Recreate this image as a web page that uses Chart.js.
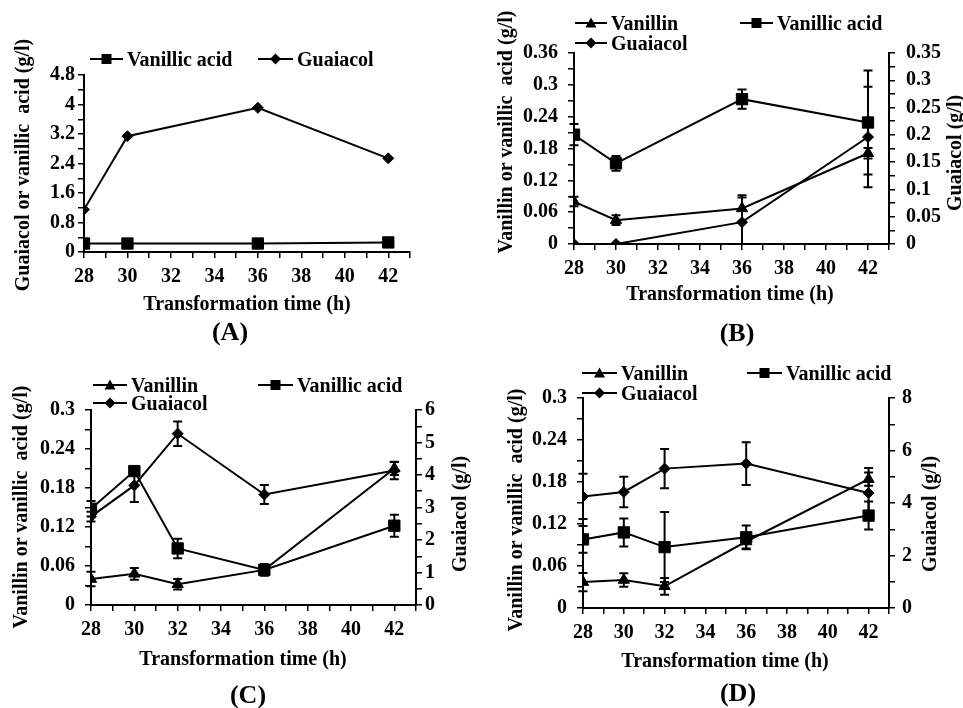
<!DOCTYPE html>
<html><head><meta charset="utf-8">
<script src="https://cdn.jsdelivr.net/npm/chart.js@4.4.0/dist/chart.umd.min.js"></script>
<style>
html,body{margin:0;padding:0;background:#fff;}
#root{position:relative;width:963px;height:708px;overflow:hidden;background:#fff;}
canvas{position:absolute;}
.t{position:absolute;font-family:'Liberation Serif','Times New Roman',serif;font-weight:bold;font-size:20px;color:#000;white-space:pre;line-height:1;transform:translate(-50%,-50%);}
.r{transform:translate(-50%,-50%) rotate(-90deg);}
.p{font-size:26px;}
.lg{position:absolute;height:24px;display:flex;align-items:center;font-family:'Liberation Serif','Times New Roman',serif;font-weight:bold;font-size:20px;color:#000;white-space:pre;}
.lg svg{margin-right:4px;}
</style></head>
<body><div id="root">
<canvas id="cA" width="470" height="300" style="left:0;top:40px"></canvas>
<canvas id="cB" width="483" height="300" style="left:480px;top:20px"></canvas>
<canvas id="cC" width="480" height="300" style="left:0;top:380px"></canvas>
<canvas id="cD" width="483" height="300" style="left:480px;top:370px"></canvas>

<div class="t r" style="left:22px;top:165px">Guaiacol or vanillic  acid (g/l)</div>
<div class="t" style="left:247px;top:303px">Transformation time (h)</div>
<div class="t p" style="left:230px;top:332px">(A)</div>

<div class="t r" style="left:505px;top:132px">Vanillin or vanillic  acid (g/l)</div>
<div class="t r" style="left:954px;top:153px">Guaiacol (g/l)</div>
<div class="t" style="left:730px;top:293px">Transformation time (h)</div>
<div class="t p" style="left:737px;top:333px">(B)</div>

<div class="t r" style="left:20px;top:507px">Vanillin or vanillic  acid (g/l)</div>
<div class="t r" style="left:459px;top:514px">Guaiacol (g/l)</div>
<div class="t" style="left:243px;top:658px">Transformation time (h)</div>
<div class="t p" style="left:248px;top:695px">(C)</div>

<div class="t r" style="left:515px;top:510px">Vanillin or vanillic  acid (g/l)</div>
<div class="t r" style="left:929px;top:514px">Guaiacol (g/l)</div>
<div class="t" style="left:725px;top:660px">Transformation time (h)</div>
<div class="t p" style="left:738px;top:693px">(D)</div>
</div>
<script>
// ---------- DATA ----------
const aTime = [28, 30, 36, 42];
const aVanillicAcid = [0.23, 0.23, 0.23, 0.26];
const aGuaiacol = [1.15, 3.14, 3.91, 2.54];

const bTime = [28, 30, 36, 42];
const bVanillin = [0.080, 0.045, 0.067, 0.171];
const bVanillinErr = [0.009, 0.009, 0.025, 0.010];
const bVanillicAcid = [0.206, 0.152, 0.273, 0.229];
const bVanillicAcidErr = [0.020, 0.014, 0.018, 0.098];
const bGuaiacol = [0, 0, 0.040, 0.196];
const bGuaiacolErr = [0, 0, 0.045, 0.092];

const cTime = [28, 30, 32, 36, 42];
const cVanillin = [0.040, 0.048, 0.032, 0.054, 0.210];
const cVanillinErr = [0.011, 0.009, 0.008, 0.006, 0.010];
const cVanillicAcid = [0.148, 0.206, 0.087, 0.054, 0.122];
const cVanillicAcidErr = [0.012, 0.006, 0.015, 0.009, 0.017];
const cGuaiacol = [2.72, 3.68, 5.27, 3.40, 4.14];
const cGuaiacolErr = [0.15, 0.51, 0.38, 0.29, 0.27];

const dTime = [28, 30, 32, 36, 42];
const dVanillin = [0.037, 0.040, 0.031, 0.095, 0.184];
const dVanillinErr = [0.013, 0.0095, 0.012, 0.010, 0.0095];
const dVanillicAcid = [0.098, 0.108, 0.087, 0.101, 0.132];
const dVanillicAcidErr = [0.019, 0.020, 0.050, 0.017, 0.020];
const dGuaiacol = [4.25, 4.42, 5.31, 5.50, 4.38];
const dGuaiacolErr = [0.86, 0.58, 0.75, 0.81, 0.95];

// tick labels (major) and minor tick positions
const xMajor = [28, 30, 32, 34, 36, 38, 40, 42];
const xMinor = [29, 31, 33, 35, 37, 39, 41, 43];
const aLeftMajor = [0, 0.8, 1.6, 2.4, 3.2, 4, 4.8];
const aLeftMinor = [0.4, 1.2, 2, 2.8, 3.6, 4.4];
const bLeftMajor = [0, 0.06, 0.12, 0.18, 0.24, 0.3, 0.36];
const bLeftMinor = [0.03, 0.09, 0.15, 0.21, 0.27, 0.33];
const bRightMajor = [0, 0.05, 0.1, 0.15, 0.2, 0.25, 0.3, 0.35];
const bRightMinor = [0.025, 0.075, 0.125, 0.175, 0.225, 0.275, 0.325];
const cdLeftMajor = [0, 0.06, 0.12, 0.18, 0.24, 0.3];
const cdLeftMinor = [0.03, 0.09, 0.15, 0.21, 0.27];
const cRightMajor = [0, 1, 2, 3, 4, 5, 6];
const cRightMinor = [0.5, 1.5, 2.5, 3.5, 4.5, 5.5];
const dRightMajor = [0, 2, 4, 6, 8];
const dRightMinor = [1, 3, 5, 7];

// ---------- HELPERS ----------
const FONT = { family: "'Liberation Serif','Times New Roman',serif", size: 20, weight: 'bold' };
const pts = (xs, ys) => xs.map((x, i) => ({ x, y: ys[i] }));

const errorBarPlugin = {
  id: 'errorBars',
  afterDatasetsDraw(chart) {
    const ctx = chart.ctx, area = chart.chartArea;
    ctx.save();
    ctx.beginPath();
    ctx.rect(area.left - 10, area.top - 10, area.right - area.left + 20, area.bottom - area.top + 10);
    ctx.clip();
    ctx.strokeStyle = '#000';
    ctx.lineWidth = 2;
    chart.data.datasets.forEach((ds) => {
      if (!ds.errorBars) return;
      const xs = chart.scales.x, ys = chart.scales[ds.yAxisID || 'y'];
      ds.data.forEach((p, j) => {
        const e = ds.errorBars[j];
        if (!e) return;
        const px = xs.getPixelForValue(p.x);
        const hi = ys.getPixelForValue(p.y + e);
        const lo = ys.getPixelForValue(p.y - e);
        ctx.beginPath();
        ctx.moveTo(px, hi); ctx.lineTo(px, lo);
        ctx.moveTo(px - 4.5, hi); ctx.lineTo(px + 4.5, hi);
        ctx.moveTo(px - 4.5, lo); ctx.lineTo(px + 4.5, lo);
        ctx.stroke();
      });
    });
    ctx.restore();
  }
};

function series(label, xs, ys, style, radius, err, axis) {
  return {
    label, data: pts(xs, ys), showLine: true, tension: 0,
    borderColor: '#000', backgroundColor: '#000', borderWidth: 2,
    pointStyle: style, pointRadius: radius, pointHoverRadius: radius,
    pointBackgroundColor: '#000', pointBorderColor: '#000', pointBorderWidth: 1,
    errorBars: err || null, yAxisID: axis || 'y'
  };
}

function axis(min, max, major, minor, position, width, pad) {
  const all = major.concat(minor).sort((a, b) => a - b);
  return {
    type: 'linear', position, min, max,
    afterBuildTicks: (s) => { s.ticks = all.map(v => ({ value: v })); },
    afterFit: (s) => { s.width = width; },
    ticks: {
      color: '#000', font: FONT, padding: pad, autoSkip: false,
      callback: (v) => major.includes(v) ? String(v) : ''
    },
    grid: { drawOnChartArea: false, drawTicks: true, tickLength: 6, color: '#000', lineWidth: 1.5 },
    border: { color: '#000', width: 2 }
  };
}

function xAxis(height) {
  const all = xMajor.concat(xMinor).sort((a, b) => a - b);
  return {
    type: 'linear', position: 'bottom', min: 28, max: 43,
    afterBuildTicks: (s) => { s.ticks = all.map(v => ({ value: v })); },
    afterFit: (s) => { s.height = height; },
    ticks: {
      color: '#000', font: FONT, padding: 7, autoSkip: false, maxRotation: 0,
      callback: (v) => xMajor.includes(v) ? String(v) : ''
    },
    grid: { drawOnChartArea: false, drawTicks: true, tickLength: 6, color: '#000', lineWidth: 1.5 },
    border: { color: '#000', width: 2 }
  };
}

function makeChart(id, datasets, scales, padding) {
  new Chart(document.getElementById(id), {
    type: 'scatter',
    data: { datasets },
    options: {
      responsive: false, animation: false, devicePixelRatio: 1,
      layout: { padding },
      plugins: { legend: { display: false }, tooltip: { enabled: false } },
      scales
    },
    plugins: [errorBarPlugin]
  });
}

// ---------- CHARTS ----------
makeChart('cA', [
  series('Vanillic acid', aTime, aVanillicAcid, 'rect', 8),
  series('Guaiacol', aTime, aGuaiacol, 'rectRot', 5.5)
], {
  x: xAxis(88),
  y: axis(0, 4.8, aLeftMajor, aLeftMinor, 'left', 84, 3)
}, { top: 35, right: 60, left: 0, bottom: 0 });

makeChart('cB', [
  series('Vanillin', bTime, bVanillin, 'triangle', 6.5, bVanillinErr),
  series('Vanillic acid', bTime, bVanillicAcid, 'rect', 8, bVanillicAcidErr),
  series('Guaiacol', bTime, bGuaiacol, 'rectRot', 5.5, bGuaiacolErr, 'y2')
], {
  x: xAxis(76),
  y: axis(0, 0.36, bLeftMajor, bLeftMinor, 'left', 94, 10),
  y2: axis(0, 0.35, bRightMajor, bRightMinor, 'right', 74, 11)
}, { top: 33, right: 0, left: 0, bottom: 0 });

makeChart('cC', [
  series('Vanillin', cTime, cVanillin, 'triangle', 6.5, cVanillinErr),
  series('Vanillic acid', cTime, cVanillicAcid, 'rect', 8, cVanillicAcidErr),
  series('Guaiacol', cTime, cGuaiacol, 'rectRot', 5.5, cGuaiacolErr, 'y2')
], {
  x: xAxis(75),
  y: axis(0, 0.3, cdLeftMajor, cdLeftMinor, 'left', 91, 10),
  y2: axis(0, 6, cRightMajor, cRightMinor, 'right', 64, 3)
}, { top: 30, right: 0, left: 0, bottom: 0 });

makeChart('cD', [
  series('Vanillin', dTime, dVanillin, 'triangle', 6.5, dVanillinErr),
  series('Vanillic acid', dTime, dVanillicAcid, 'rect', 8, dVanillicAcidErr),
  series('Guaiacol', dTime, dGuaiacol, 'rectRot', 5.5, dGuaiacolErr, 'y2')
], {
  x: xAxis(62),
  y: axis(0, 0.3, cdLeftMajor, cdLeftMinor, 'left', 103, 10),
  y2: axis(0, 8, dRightMajor, dRightMinor, 'right', 74, 7)
}, { top: 28, right: 0, left: 0, bottom: 0 });

// ---------- LEGENDS (HTML) ----------
function sym(shape, w) {
  const c = w / 2;
  let m = '';
  if (shape === 'rect') m = `<rect x="${c - 5}" y="2" width="10" height="10" fill="#000"/>`;
  if (shape === 'triangle') m = `<polygon points="${c},1.5 ${c + 5.5},11.5 ${c - 5.5},11.5" fill="#000"/>`;
  if (shape === 'rectRot') m = `<polygon points="${c},1.5 ${c + 5.5},7 ${c},12.5 ${c - 5.5},7" fill="#000"/>`;
  return `<svg width="${w}" height="14" viewBox="0 0 ${w} 14"><line x1="0" y1="7" x2="${w}" y2="7" stroke="#000" stroke-width="2"/>${m}</svg>`;
}
const legendItems = [
  // [left, centerY, shape, symbolWidth, text]
  [90, 59, 'rect', 33, 'Vanillic acid'], [258, 59, 'rectRot', 35, 'Guaiacol'],
  [575, 23, 'triangle', 32, 'Vanillin'], [740, 23, 'rect', 33, 'Vanillic acid'], [575, 43, 'rectRot', 32, 'Guaiacol'],
  [93, 385, 'triangle', 34, 'Vanillin'], [258, 385, 'rect', 35, 'Vanillic acid'], [93, 403, 'rectRot', 34, 'Guaiacol'],
  [582, 373, 'triangle', 35, 'Vanillin'], [747, 373, 'rect', 35, 'Vanillic acid'], [582, 393, 'rectRot', 35, 'Guaiacol']
];
const root = document.getElementById('root');
legendItems.forEach(([l, cy, shape, w, text]) => {
  const d = document.createElement('div');
  d.className = 'lg';
  d.style.left = l + 'px';
  d.style.top = (cy - 12) + 'px';
  d.innerHTML = sym(shape, w) + '<span>' + text + '</span>';
  root.appendChild(d);
});
</script>
</body></html>
